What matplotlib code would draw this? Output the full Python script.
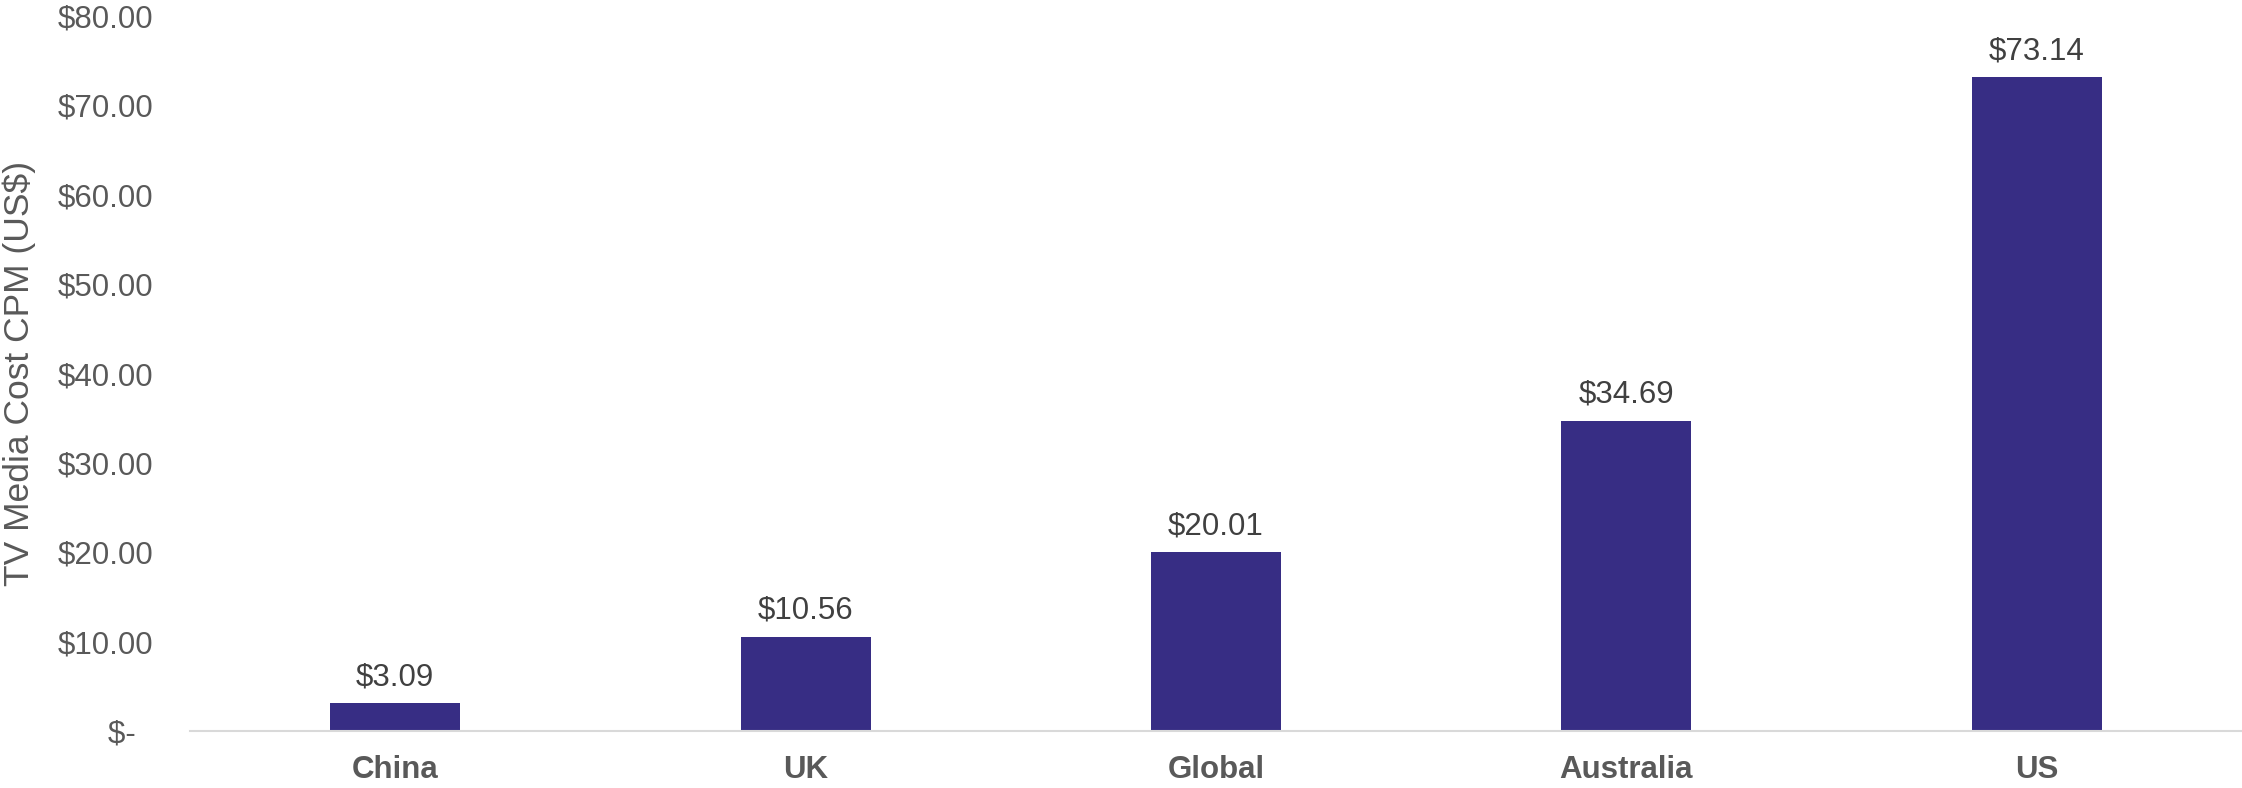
import matplotlib
matplotlib.use("Agg")
import matplotlib.pyplot as plt
from matplotlib.ticker import FuncFormatter

categories = ["China", "UK", "Global", "Australia", "US"]
values = [3.09, 10.56, 20.01, 34.69, 73.14]
y_ticks = [0, 10, 20, 30, 40, 50, 60, 70, 80]
y_label = "TV Media Cost CPM (US$)"

plt.rcParams['font.family'] = ['Liberation Sans', 'DejaVu Sans']

W, H = 2242, 788
fig = plt.figure(figsize=(W / 100, H / 100), dpi=100)
ax = fig.add_axes([190 / W, 1 - 731 / H, 1 - 190 / W, (731 - 16) / H])

x = list(range(len(categories)))
bars = ax.bar(x, values, width=0.317, color="#372D84", zorder=2)

ax.set_xlim(-0.5, len(categories) - 0.5)
ax.set_ylim(0, 80)
ax.set_yticks(y_ticks)


def fmt(v, pos):
    if v == 0:
        return "$-  "
    return f"${v:,.2f}"


ax.yaxis.set_major_formatter(FuncFormatter(fmt))
ax.set_xticks(x)
ax.set_xticklabels(categories, fontweight="bold")

ax.tick_params(axis="y", length=0, pad=26.5, labelsize=22.5, labelcolor="#595959")
ax.tick_params(axis="x", length=0, pad=17, labelsize=22.5, labelcolor="#595959")

for s in ["top", "right", "left"]:
    ax.spines[s].set_visible(False)
ax.spines["bottom"].set_color("#D9D9D9")
ax.spines["bottom"].set_linewidth(1.5)
ax.spines["bottom"].set_zorder(3)

for xi, v in zip(x, values):
    ax.annotate(f"${v:,.2f}", (xi, v), xytext=(0, 13), textcoords="offset points",
                ha="center", va="baseline", fontsize=22.5, color="#404040")

fig.text(19 / W, 1 - 373 / H, y_label, rotation=90, ha="center", va="center",
         fontsize=25.5, color="#595959")

fig.savefig("out.png", dpi=100, facecolor="white")
